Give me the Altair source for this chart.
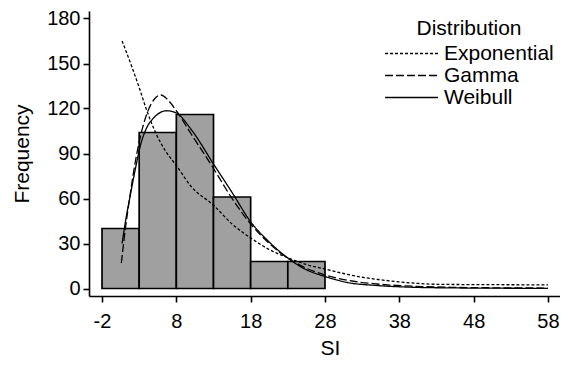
import altair as alt
import pandas as pd

# Histogram bins
bin_start = [-2, 3, 8, 13, 18, 23]
bin_end = [3, 8, 13, 18, 23, 28]
counts = [40, 104, 116, 61, 18, 18]

# Fitted curves
exp_si = [0.7, 2, 3, 4, 5.2, 6.5, 8, 10, 13, 15.5, 18, 20.5, 23, 25.5, 28, 30.5, 33, 35.5, 38, 40.5, 43, 48, 53, 58]
exp_f = [165, 148, 134, 119, 104, 92, 82, 68, 55.5, 43, 33.7, 26, 20.5, 16, 13, 10, 7.5, 5.8, 4.4, 3.4, 2.8, 2.6, 2.5, 2.4]

gam_si = [0.6, 1.2, 1.8, 2.5, 3.2, 4, 5, 5.9, 7, 8, 10, 13, 15.5, 18, 20.5, 23, 25.5, 28, 31, 35, 40, 45, 50, 58]
gam_f = [17, 42, 63, 85, 102, 116, 126, 129, 125, 118.5, 103, 80, 60, 43, 30, 20.3, 13.5, 9, 5.5, 3, 1.5, 0.8, 0.5, 0.3]

wei_si = [0.7, 1.2, 1.8, 2.5, 3.2, 4, 5, 6.7, 8, 10, 13, 15.5, 18, 20.5, 23, 25.5, 28, 31, 35, 40, 45, 58]
wei_f = [30, 46, 62, 80, 96, 107, 114, 118.5, 117, 106, 83, 64, 44.5, 31, 20.3, 12.5, 8, 4, 2, 0.8, 0.4, 0.1]

dist_names = ["Exponential", "Gamma", "Weibull"]

bars_df = pd.DataFrame({"start": bin_start, "end": bin_end, "count": counts})
curves_df = pd.concat([
    pd.DataFrame({"si": exp_si, "freq": exp_f, "dist": "Exponential"}),
    pd.DataFrame({"si": gam_si, "freq": gam_f, "dist": "Gamma"}),
    pd.DataFrame({"si": wei_si, "freq": wei_f, "dist": "Weibull"}),
])

FONT = "Liberation Sans"

xscale = alt.Scale(domain=[-3.75, 59.62], nice=False, zero=False)
yscale = alt.Scale(domain=[-5, 185], nice=False, zero=False)

xaxis = alt.Axis(values=[-2, 8, 18, 28, 38, 48, 58], title="SI", grid=False,
                 labelExpr="'' + datum.value",
                 tickSize=6, labelPadding=9, titlePadding=6, titleX=241)
yaxis = alt.Axis(values=[0, 30, 60, 90, 120, 150, 180], title="Frequency", grid=False,
                 tickSize=6, labelPadding=3, titlePadding=14)

bars = alt.Chart(bars_df).mark_rect(fill="#a0a0a0", stroke="black", strokeWidth=1.7).encode(
    x=alt.X("start:Q", scale=xscale, axis=xaxis),
    x2="end:Q",
    y=alt.Y("count:Q", scale=yscale, axis=yaxis),
    y2=alt.datum(0),
)

lines = alt.Chart(curves_df).mark_line(color="black", strokeWidth=1.3, interpolate="monotone").encode(
    x=alt.X("si:Q", scale=xscale),
    y=alt.Y("freq:Q", scale=yscale),
    strokeDash=alt.StrokeDash(
        "dist:N",
        scale=alt.Scale(domain=dist_names, range=[[3, 2], [8, 3], [1, 0]]),
        legend=alt.Legend(
            title="Distribution", orient="none", legendX=295, legendY=7,
            titleFontSize=21, titleFontWeight="normal", titleFont=FONT, titleColor="black",
            titleAnchor="middle", titlePadding=4,
            labelFontSize=21, labelFont=FONT, labelColor="black", labelOffset=5,
            symbolType="M-1,0L1,0", symbolSize=2800, symbolStrokeColor="black",
            symbolStrokeWidth=1.3, rowPadding=0, clipHeight=21,
        ),
    ),
)

chart = alt.layer(bars, lines).properties(
    width=471, height=285,
    autosize=alt.AutoSizeParams(type="none"),
    padding={"left": 81, "top": 3, "right": 0, "bottom": 61},
).configure_view(stroke=None).configure_axis(
    domainColor="black", domainWidth=1.6, tickColor="black", tickWidth=1.6,
    labelFont=FONT, labelFontSize=20, labelColor="black",
    titleFont=FONT, titleFontSize=21, titleFontWeight="normal", titleColor="black",
)

chart.save("out.html", embed_options={"renderer": "svg", "actions": False})
